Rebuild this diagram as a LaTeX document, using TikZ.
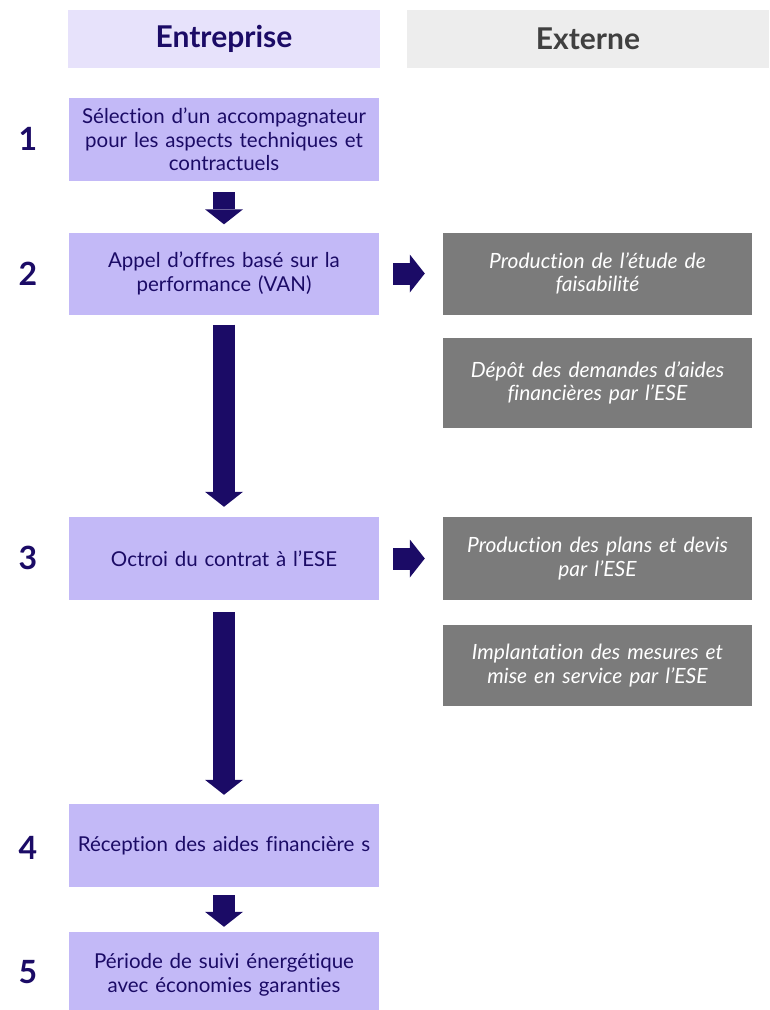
\documentclass[tikz,border=0pt]{standalone}
\usepackage{fontspec}
\setmainfont{Lato}[Ligatures=NoCommon]
\usetikzlibrary{arrows.meta}
\definecolor{navy}{HTML}{1B0B66}
\definecolor{boxlav}{HTML}{C3B9F7}
\definecolor{headlav}{HTML}{E7E2FB}
\definecolor{headgray}{HTML}{EDEDED}
\definecolor{extgray}{HTML}{7B7B7B}
\definecolor{darktxt}{HTML}{404040}
\begin{document}
\begin{tikzpicture}[x=1pt,y=-1pt,
  header/.style={minimum height=58pt,inner sep=0pt,font=\fontsize{30}{34}\selectfont\bfseries},
  stepbox/.style={fill=boxlav,minimum width=310pt,inner sep=0pt,text width=306pt,align=center,text=navy,font=\fontsize{20.5}{23.5}\selectfont},
  extbox/.style={fill=extgray,minimum width=309pt,inner sep=0pt,text width=305pt,align=center,text=white,font=\fontsize{21}{23.5}\selectfont\itshape},
  num/.style={text=navy,font=\fontsize{32}{32}\selectfont\bfseries},
  blockarrow/.style={draw=navy,line width=22pt,line cap=butt,-{Triangle[width=38pt,length=15pt,line width=0pt,fill=navy]}}]
\useasboundingbox (0,0) rectangle (769,1010);
% headers
\node[header,fill=headlav,minimum width=312pt,text=navy] (hE) at (224,39) {Entreprise};
\node[header,fill=headgray,minimum width=362pt,text=darktxt] (hX) at (588,39) {Externe};
% entreprise steps
\node[stepbox,minimum height=83pt] (b1) at (224,139.5) {Sélection d’un accompagnateur\\pour les aspects techniques et\\contractuels};
\node[stepbox,minimum height=82pt] (b2) at (224,273.5) {Appel d’offres basé sur la\\performance (VAN)};
\node[stepbox,minimum height=83pt] (b3) at (224,558.5) {Octroi du contrat à l’ESE};
\node[stepbox,minimum height=83pt] (b4) at (224,845.5) {Réception des aides financière s};
\node[stepbox,minimum height=86pt] (b5) at (224,975) {Période de suivi énergétique\\avec économies garanties};
% external boxes
\node[extbox,minimum height=82pt] (e1) at (597.5,273.5) {Production de l’étude de\\faisabilité};
\node[extbox,minimum height=90pt] (e2) at (597.5,383) {Dépôt des demandes d’aides\\financières par l’ESE};
\node[extbox,minimum height=83pt] (e3) at (597.5,558.5) {Production des plans et devis\\par l’ESE};
\node[extbox,minimum height=81pt] (e4) at (597.5,665.5) {Implantation des mesures et\\mise en service par l’ESE};
% numbers
\node[num] (n1) at (28,139) {1};
\node[num] (n2) at (28,274) {2};
\node[num] (n3) at (28,558) {3};
\node[num] (n4) at (28,848) {4};
\node[num] (n5) at (28,972) {5};
% arrows
\draw[blockarrow] ([yshift=-11pt]b1.south) -- ([yshift=8pt]b2.north);
\draw[blockarrow] ([yshift=-10pt]b2.south) -- ([yshift=10pt]b3.north);
\draw[blockarrow] ([yshift=-12pt]b3.south) -- ([yshift=9pt]b4.north);
\draw[blockarrow] ([yshift=-8pt]b4.south) -- ([yshift=5pt]b5.north);
\draw[blockarrow] ([xshift=14pt]b2.east) -- ([xshift=-18pt]e1.west);
\draw[blockarrow] ([xshift=14pt]b3.east) -- ([xshift=-18pt]e3.west);
\end{tikzpicture}
\end{document}
